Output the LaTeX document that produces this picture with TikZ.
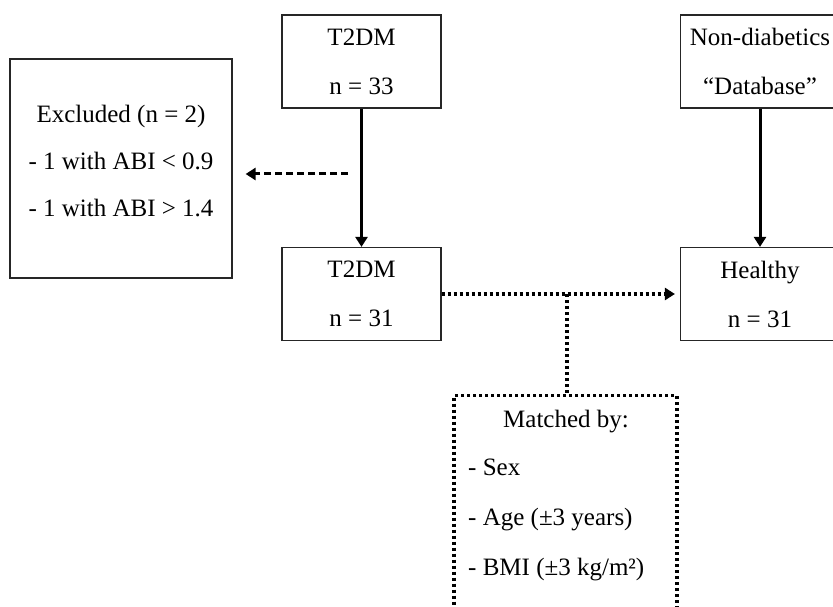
\documentclass[tikz,border=0pt]{standalone}
\usepackage{fontspec}
\setmainfont{Liberation Serif}
\usetikzlibrary{arrows.meta}
\begin{document}
\begin{tikzpicture}[x=1pt,y=-1pt,
  box/.style={draw=black!85, line width=1.2pt, minimum width=159pt, minimum height=93pt,
    inner sep=0pt, font=\fontsize{25}{49}\selectfont, align=center},
  txt/.style={font=\fontsize{25}{49}\selectfont, align=center, inner sep=0pt},
  tip/.style={-{Triangle[width=12pt,length=10pt]}},
  solidarrow/.style={line width=3pt, tip},
  dashedarrow/.style={line width=3pt, dash pattern=on 7pt off 4pt, tip},
  dotline/.style={line width=3.2pt, dash pattern=on 3pt off 3pt},
  matchbox/.style={draw=black, dotline, minimum width=223pt, minimum height=260pt, inner sep=0pt}]
\useasboundingbox (0,0) rectangle (833,607);
\clip (0,0) rectangle (833,607);
\fill[white] (0,0) rectangle (833,607);

\node[box] (T2DMa) at (361.5,61.5) {T2DM\\n = 33};
\node[box] (ND) at (760,61.5) {Non-diabetics\\“Database”};
\node[box, minimum width=222pt, minimum height=219pt] (Excl) at (121,168.5) {};
\node[txt, font=\fontsize{25}{47}\selectfont] (ExclT) at (121,161) {Excluded (n = 2)\\- 1 with ABI < 0.9\\- 1 with ABI > 1.4};
\node[box] (T2DMb) at (361.5,294) {T2DM\\n = 31};
\node[box] (Healthy) at (760,294) {Healthy\\n = 31};

\node[matchbox, anchor=north] (Matched) at (565.5,394) {};
\node[txt] (MT) at (566,422) {Matched by:};
\node[txt, align=left, anchor=west, font=\fontsize{25}{50}\selectfont] (ML) at (468,520)
  {- Sex\\- Age (±3 years)\\- BMI (±3 kg/m²)};

\draw[solidarrow] (T2DMa) -- (T2DMb);
\draw[solidarrow] (ND) -- (Healthy);
\coordinate (exS) at (348,174);
\draw[dashedarrow, shorten >=13pt] (exS) -- (exS -| Excl.east);
\draw[dotline, tip, shorten >=5pt] (T2DMb.east) -- (Healthy.west);
\coordinate (br) at (567,294);
\draw[dotline] (br) -- (br |- Matched.north);
\end{tikzpicture}
\end{document}
